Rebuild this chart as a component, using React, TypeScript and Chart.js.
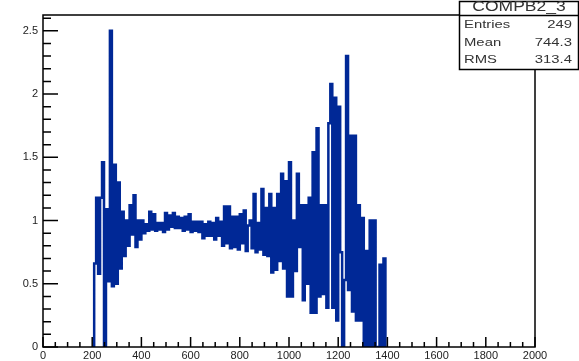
import React, { useEffect, useRef } from "react";
import { Chart, registerables } from "chart.js";

Chart.register(...registerables);

// Histogram: COMPB2_3, bins of width 8 starting at 208
const binStart = 208;
const binWidth = 8;
const binValues = [
  0.66, 1.18, 0.58, 1.18, 1.46, 0, 1.09, 0.52, 2.5, 0.48,
  1.44, 0.5, 1.3, 0.62, 1.07, 0.72, 1.0, 0.8, 1.12, 0.89,
  1.2, 0.79, 1.0, 0.85, 1.0, 0.9, 0.97, 0.92, 1.07, 0.93,
  1.05, 0.92, 0.98, 0.93, 0.98, 0.91, 1.06, 0.93, 1.04, 0.95,
  1.06, 0.94, 1.03, 0.94, 1.02, 0.92, 1.03, 0.93, 1.05, 0.91,
  0.99, 0.92, 0.99, 0.91, 0.99, 0.86, 0.97, 0.88, 0.99, 0.88,
  0.98, 0.85, 1.02, 0.88, 0.99, 0.8, 1.11, 0.82, 1.11, 0.78,
  1.03, 0.79, 1.03, 0.77, 1.05, 0.82, 1.08, 0.76, 0.96, 1.0,
  0.78, 1.21, 0.75, 0.98, 0.77, 1.25, 0.73, 1.1, 0.72, 1.21,
  0.59, 1.1, 0.61, 1.21, 0.68, 1.37, 0.62, 1.31, 0.4, 1.46,
  0.4, 1.0, 0.6, 1.37, 0.79, 1.12, 0.37, 1.12, 0.5, 1.18,
  0.27, 1.54, 0.27, 1.73, 0.4, 1.12, 0.42, 1.12, 0.31, 1.77,
  2.08, 0.31, 1.97, 0.21, 1.9, 0.75, 0, 0.53, 2.3, 0.45,
  1.67, 0.28, 1.67, 0.21, 1.12, 0.21, 1.02, 0, 0.76, 0,
  1.0, 0, 1.0, 0, 0, 0.65, 0, 0.7,
];

const xMin = 0;
const xMax = 2000;
const yMin = 0;
const yMax = 2.625;
const xTickLabels = [0, 200, 400, 600, 800, 1000, 1200, 1400, 1600, 1800, 2000];
const yTickLabels = [0, 0.5, 1, 1.5, 2, 2.5];

const statsTitle = "COMPB2_3";
const statsNames = ["Entries", "Mean", "RMS"];
const statsValues = ["249", "744.3", "313.4"];

const lineColor = "rgb(0,40,150)";
const fontFamily = "'Liberation Sans', Arial, Helvetica, sans-serif";

function buildPoints() {
  const pts: { x: number; y: number }[] = [{ x: binStart, y: 0 }];
  binValues.forEach((v, i) => pts.push({ x: binStart + i * binWidth, y: v }));
  pts.push({ x: binStart + binValues.length * binWidth, y: 0 });
  return pts;
}

function drawStretchedText(
  ctx: CanvasRenderingContext2D,
  text: string,
  x: number,
  y: number,
  align: CanvasTextAlign,
  sx: number
) {
  ctx.save();
  ctx.translate(x, y);
  ctx.scale(sx, 1);
  ctx.textAlign = align;
  ctx.textBaseline = "alphabetic";
  ctx.fillText(text, 0, 0);
  ctx.restore();
}

const rootFrame = {
  id: "rootFrame",
  afterDatasetsDraw(chart: any) {
    const { ctx, chartArea: a, scales } = chart;
    const xs = scales.x;
    const ys = scales.y;
    ctx.save();
    ctx.strokeStyle = "#000";
    ctx.lineWidth = 1.5;
    ctx.strokeRect(a.left, a.top, a.right - a.left, a.bottom - a.top);
    ctx.beginPath();
    for (let k = 0; k <= 26; k++) {
      const py = ys.getPixelForValue(k * 0.1);
      const len = k % 5 === 0 ? 15 : 8;
      ctx.moveTo(a.left, py);
      ctx.lineTo(a.left + len, py);
    }
    for (let k = 0; k <= 40; k++) {
      const px = xs.getPixelForValue(k * 50);
      const len = k % 4 === 0 ? 10 : 5;
      ctx.moveTo(px, a.bottom);
      ctx.lineTo(px, a.bottom - len);
    }
    ctx.stroke();
    ctx.restore();
  },
  afterDraw(chart: any) {
    const { ctx } = chart;
    const left = 459.5;
    const top = 1.5;
    const right = 578.5;
    const bottom = 69.5;
    ctx.save();
    ctx.fillStyle = "#fff";
    ctx.fillRect(left, top, right - left, bottom - top);
    ctx.strokeStyle = "#000";
    ctx.lineWidth = 1.5;
    ctx.strokeRect(left, top, right - left, bottom - top);
    ctx.beginPath();
    ctx.moveTo(left, 15.5);
    ctx.lineTo(right, 15.5);
    ctx.stroke();
    ctx.fillStyle = "#333";
    ctx.font = `14px ${fontFamily}`;
    drawStretchedText(ctx, statsTitle, (left + right) / 2, 11, "center", 1.25);
    ctx.font = `11px ${fontFamily}`;
    const baselines = [28, 45.5, 63];
    statsNames.forEach((name, i) => {
      drawStretchedText(ctx, name, 464, baselines[i], "left", 1.35);
      drawStretchedText(ctx, statsValues[i], 572, baselines[i], "right", 1.35);
    });
    ctx.restore();
  },
};

export default function App() {
  const ref = useRef<HTMLCanvasElement | null>(null);
  useEffect(() => {
    document.body.style.margin = "0";
    const canvas = ref.current;
    if (!canvas) return;
    const chart = new Chart(canvas, {
      type: "line",
      data: {
        datasets: [
          {
            data: buildPoints(),
            stepped: "before",
            borderColor: lineColor,
            borderWidth: 2.5,
            pointRadius: 0,
            fill: false,
            tension: 0,
          } as any,
        ],
      },
      options: {
        responsive: false,
        animation: false,
        events: [],
        layout: { padding: { top: 15, right: 44, left: 0, bottom: 0 } },
        plugins: { legend: { display: false }, tooltip: { enabled: false }, title: { display: false } },
        scales: {
          x: {
            type: "linear",
            min: xMin,
            max: xMax,
            grid: { display: false, drawTicks: false },
            border: { display: false },
            afterBuildTicks: (s: any) => {
              s.ticks = xTickLabels.map((v) => ({ value: v }));
            },
            afterFit: (s: any) => {
              s.height = 14;
            },
            ticks: {
              autoSkip: false,
              maxRotation: 0,
              padding: 2,
              color: "#222",
              font: { family: fontFamily, size: 11 },
              callback: (v: any) => String(v),
            },
          },
          y: {
            type: "linear",
            min: yMin,
            max: yMax,
            grid: { display: false, drawTicks: false },
            border: { display: false },
            afterBuildTicks: (s: any) => {
              s.ticks = yTickLabels.map((v) => ({ value: v }));
            },
            afterFit: (s: any) => {
              s.width = 43;
            },
            ticks: {
              padding: 5,
              color: "#222",
              font: { family: fontFamily, size: 11 },
              callback: (v: any) => String(v),
            },
          },
        },
      },
      plugins: [rootFrame],
    });
    return () => chart.destroy();
  }, []);
  return <canvas ref={ref} width={579} height={361} style={{ display: "block" }} />;
}
